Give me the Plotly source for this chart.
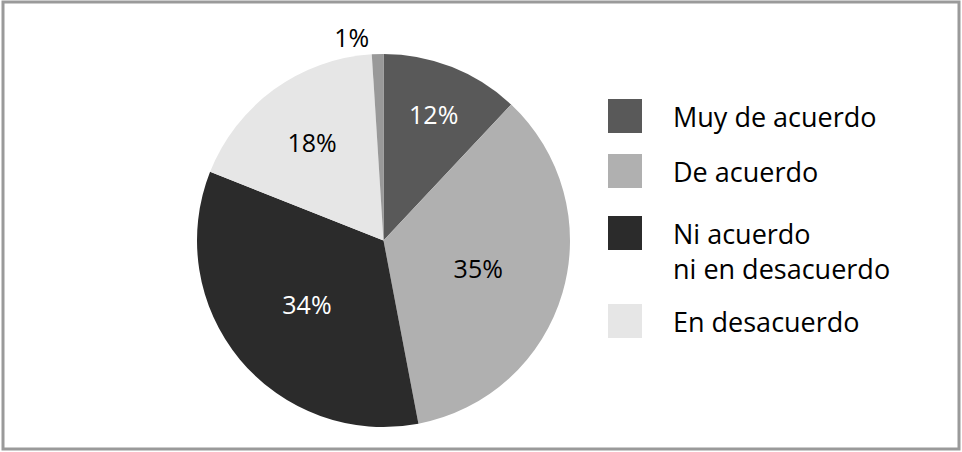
import plotly.graph_objects as go

# slice data, clockwise from 12 o'clock
categories = ['Muy de acuerdo', 'De acuerdo', 'Ni acuerdo<br>ni en desacuerdo',
              'En desacuerdo', 'Muy en desacuerdo']
values = [12, 35, 34, 18, 1]
colors = ['#595959', '#b0b0b0', '#2b2b2b', '#e6e6e6', '#999999']
text_colors = ['white', 'black', 'white', 'black', 'black']
legend_items = categories[:4]

FONT = 'Open Sans'
W, H = 962, 452

fig = go.Figure()

fig.add_trace(go.Pie(
    labels=categories,
    values=values,
    sort=False,
    direction='clockwise',
    rotation=0,
    marker=dict(colors=colors, line=dict(width=0)),
    texttemplate='%{value}%',
    textposition=['inside', 'inside', 'inside', 'inside', 'outside'],
    insidetextorientation='horizontal',
    insidetextfont=dict(family=FONT, size=25, color=text_colors),
    outsidetextfont=dict(family=FONT, size=25, color='black'),
    domain=dict(x=[197 / W, 570 / W], y=[25 / H, 398 / H]),
    showlegend=False,
    hoverinfo='label+percent',
))

# hand-built legend: big square swatches like the original
swatch_tops = [99, 154, 216, 304]
for i, name in enumerate(legend_items):
    top = swatch_tops[i]
    fig.add_shape(
        type='rect', xref='paper', yref='paper',
        x0=608 / W, x1=642 / W,
        y0=1 - (top + 34) / H, y1=1 - top / H,
        fillcolor=colors[i], line=dict(width=0),
    )
    fig.add_annotation(
        text=name, xref='paper', yref='paper',
        x=671 / W, y=1 - (top - 3) / H,
        xanchor='left', yanchor='top', align='left',
        showarrow=False,
        font=dict(family=FONT, size=27, color='black'),
    )

# outer frame
fig.add_shape(
    type='rect', xref='paper', yref='paper',
    x0=3 / W, x1=959 / W, y0=3 / H, y1=1 - 2 / H,
    line=dict(color='#9a9a9a', width=3),
)

fig.update_layout(
    width=W,
    height=H,
    margin=dict(l=0, r=0, t=0, b=0),
    paper_bgcolor='white',
    plot_bgcolor='white',
    font=dict(family=FONT),
)

# drop the browser's default body margin so the figure sits at 0,0
fig.write_html('out.html', config={'displayModeBar': False},
               post_script="document.body.style.margin='0';")
